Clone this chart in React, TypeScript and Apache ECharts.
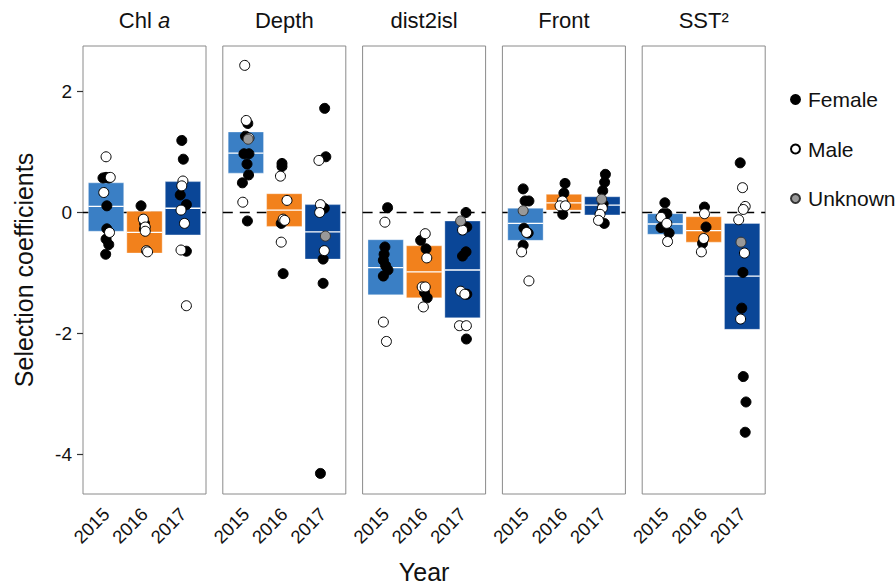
import React, { useEffect, useRef } from "react";
import * as echarts from "echarts";

const years = ["2015", "2016", "2017"];
const panelNames = ["Chl a", "Depth", "dist2isl", "Front", "SST²"];
const yearColors = ["#3a7fc5", "#f2811c", "#0a4697"];
const yTicks = [-4, -2, 0, 2];

// crossbar statistics per panel (index = year)
const boxLower = [
  [-0.31, -0.67, -0.37],
  [0.65, -0.23, -0.77],
  [-1.36, -1.41, -1.74],
  [-0.46, 0.04, -0.04],
  [-0.36, -0.49, -1.93],
];
const boxMedian = [
  [0.1, -0.33, 0.07],
  [0.98, 0.04, -0.32],
  [-0.91, -0.98, -0.95],
  [-0.18, 0.16, 0.12],
  [-0.19, -0.3, -1.05],
];
const boxUpper = [
  [0.49, 0.02, 0.51],
  [1.33, 0.31, 0.13],
  [-0.45, -0.55, -0.14],
  [0.07, 0.3, 0.26],
  [-0.02, -0.07, -0.18],
];

// points: [yearIndex, jitter, value]
const chlFemale = [
  [0, -0.08, 0.57], [0, 0.0, 0.58], [0, 0.07, 0.57], [0, 0.02, 0.11], [0, 0.02, -0.27], [0, 0.0, -0.44], [0, 0.07, -0.53], [0, -0.01, -0.69],
  [1, -0.09, 0.11], [1, 0.0, -0.18], [1, 0.0, -0.27],
  [2, -0.03, 1.19], [2, 0.01, 0.88], [2, -0.07, 0.29], [2, 0.09, 0.13], [2, 0.09, -0.64],
];
const chlMale = [
  [0, 0.11, 0.58], [0, 0.0, 0.92], [0, -0.06, 0.33], [0, 0.09, -0.33],
  [1, -0.03, -0.11], [1, 0.02, -0.24], [1, 0.02, -0.31], [1, 0.05, -0.63], [1, 0.08, -0.65],
  [2, 0.0, 0.52], [2, -0.03, 0.44], [2, -0.05, 0.04], [2, 0.04, -0.18], [2, -0.05, -0.62], [2, 0.09, -1.54],
];
const chlUnknown: number[][] = [];

const depthFemale = [
  [0, 0.05, 1.47], [0, -0.01, 1.26], [0, -0.05, 0.97], [0, 0.08, 0.97], [0, 0.03, 0.8], [0, 0.07, 0.62], [0, -0.09, 0.49], [0, 0.04, -0.14],
  [1, -0.06, 0.81], [1, -0.06, 0.76], [1, -0.08, -0.18], [1, -0.03, -1.01],
  [2, 0.05, 1.72], [2, 0.08, 0.92], [2, 0.04, 0.07], [2, 0.01, -0.77], [2, 0.01, -1.17], [2, -0.06, -4.31],
];
const depthMale = [
  [0, -0.03, 2.43], [0, 0.01, 1.52], [0, 0.08, 1.23], [0, -0.08, 0.17],
  [1, -0.1, 0.6], [1, 0.07, 0.2], [1, -0.03, -0.11], [1, 0.01, -0.13], [1, -0.08, -0.49],
  [2, -0.1, 0.86], [2, -0.06, 0.13], [2, -0.08, 0.0], [2, 0.04, -0.63],
];
const depthUnknown = [[0, 0.06, 1.21], [2, 0.07, -0.39]];

const distFemale = [
  [0, 0.05, 0.08], [0, -0.02, -0.57], [0, -0.04, -0.69], [0, -0.06, -0.79], [0, 0.0, -0.88], [0, 0.06, -0.95], [0, -0.06, -1.05],
  [1, -0.09, -0.46], [1, 0.05, -0.6], [1, 0.01, -1.32], [1, 0.08, -1.41],
  [2, 0.09, 0.0], [2, 0.11, -0.24], [2, 0.09, -0.65], [2, 0.0, -0.72], [2, 0.11, -1.35], [2, 0.1, -2.09],
];
const distMale = [
  [0, -0.02, -0.16], [0, -0.06, -1.81], [0, 0.02, -2.13],
  [1, 0.03, -0.35], [1, 0.07, -0.75], [1, -0.05, -1.23], [1, 0.03, -1.23], [1, -0.02, -1.56],
  [2, 0.0, -0.29], [2, -0.05, -1.3], [2, 0.06, -1.35], [2, -0.08, -1.87], [2, 0.1, -1.87],
];
const distUnknown = [[2, -0.05, -0.14]];

const frontFemale = [
  [0, -0.06, 0.39], [0, -0.01, 0.19], [0, 0.09, 0.19], [0, -0.04, -0.26], [0, 0.07, -0.34], [0, -0.06, -0.54],
  [1, 0.03, 0.48], [1, 0.0, 0.32], [1, -0.03, -0.03],
  [2, 0.08, 0.63], [2, 0.06, 0.5], [2, 0.01, 0.36], [2, 0.02, 0.14], [2, 0.05, -0.18],
];
const frontMale = [
  [0, 0.03, -0.33], [0, -0.1, -0.65], [0, 0.09, -1.13],
  [1, -0.04, 0.19], [1, -0.1, 0.11], [1, 0.04, 0.11],
  [2, 0.0, 0.07], [2, -0.06, -0.03], [2, -0.1, -0.13],
];
const frontUnknown = [[0, -0.06, 0.03], [2, -0.02, 0.22]];

const sstFemale = [
  [0, -0.01, 0.16], [0, -0.05, -0.02], [0, 0.04, -0.02], [0, -0.11, -0.25], [0, 0.1, -0.34],
  [1, 0.02, 0.09], [1, 0.06, -0.24], [1, -0.03, -0.51],
  [2, -0.05, 0.82], [2, 0.02, -0.99], [2, -0.01, -1.58], [2, 0.03, -2.71], [2, 0.1, -3.13], [2, 0.08, -3.63],
];
const sstMale = [
  [0, -0.11, -0.08], [0, 0.04, -0.18], [0, 0.06, -0.48],
  [1, 0.02, -0.02], [1, 0.0, -0.43], [1, -0.06, -0.65],
  [2, 0.01, 0.41], [2, 0.08, 0.1], [2, 0.03, 0.05], [2, -0.09, -0.12], [2, 0.06, -0.67], [2, -0.04, -1.76],
];
const sstUnknown = [[2, -0.03, -0.49]];

const femaleSets = [chlFemale, depthFemale, distFemale, frontFemale, sstFemale];
const maleSets = [chlMale, depthMale, distMale, frontMale, sstMale];
const unknownSets = [chlUnknown, depthUnknown, distUnknown, frontUnknown, sstUnknown];

const FONT = "'Liberation Sans', Arial, Helvetica, sans-serif";
const TEXT = "#111";

const PANEL_LEFT = 83;
const PANEL_STEP = 139.8;
const PANEL_W = 123;
const PANEL_TOP = 46;
const PANEL_H = 448;
const BOX_HALF = 0.46;

const sexStyles = [
  { name: "Female", sets: femaleSets, color: "#000", border: "#000" },
  { name: "Male", sets: maleSets, color: "#fff", border: "#000" },
  { name: "Unknown", sets: unknownSets, color: "#999", border: "#333" },
];

export default function App() {
  const ref = useRef<HTMLDivElement>(null);
  useEffect(() => {
    if (!ref.current) return;
    const chart = echarts.init(ref.current, undefined, { renderer: "svg" });
    const grids: any[] = [];
    const xAxes: any[] = [];
    const yAxes: any[] = [];
    const series: any[] = [];
    const graphics: any[] = [];

    panelNames.forEach((pname, i) => {
      const left = PANEL_LEFT + i * PANEL_STEP;
      grids.push({
        left,
        top: PANEL_TOP,
        width: PANEL_W,
        height: PANEL_H,
        show: true,
        borderColor: "#8a8a8a",
        borderWidth: 1,
        backgroundColor: "transparent",
        containLabel: false,
        outerBoundsMode: "none",
      });
      xAxes.push({
        type: "value",
        gridIndex: i,
        min: 0.4,
        max: 3.6,
        axisLine: { show: false },
        axisTick: { show: false },
        splitLine: { show: false },
        axisLabel: {
          customValues: [1, 2, 3],
          formatter: (v: number) => years[Math.round(v) - 1] ?? "",
          rotate: 45,
          margin: 17,
          fontSize: 18.5,
          color: TEXT,
          fontFamily: FONT,
        },
        name: i === 2 ? "Year" : "",
        nameLocation: "middle",
        nameGap: 65,
        nameTextStyle: { fontSize: 25, color: TEXT, fontFamily: FONT },
      });
      yAxes.push({
        type: "value",
        gridIndex: i,
        min: -4.65,
        max: 2.75,
        splitLine: { show: false },
        axisLine: { show: false },
        axisTick: {
          show: i === 0,
          customValues: yTicks,
          length: 6,
          lineStyle: { color: "#333", width: 1.2 },
        },
        axisLabel: {
          show: i === 0,
          customValues: yTicks,
          margin: 11,
          fontSize: 19,
          color: TEXT,
          fontFamily: FONT,
        },
        name: i === 0 ? "Selection coefficients" : "",
        nameLocation: "middle",
        nameRotate: 90,
        nameGap: 47,
        nameTextStyle: { fontSize: 25, color: TEXT, fontFamily: FONT },
      });

      // zero reference line
      series.push({
        type: "line",
        xAxisIndex: i,
        yAxisIndex: i,
        data: [[0.4, 0], [3.6, 0]],
        symbol: "none",
        silent: true,
        z: 1,
        lineStyle: { color: "#000", width: 1.6, type: [10, 7] },
      });

      // crossbars
      series.push({
        type: "custom",
        xAxisIndex: i,
        yAxisIndex: i,
        z: 2,
        silent: true,
        data: years.map((_, k) => [k + 1, boxLower[i][k], boxMedian[i][k], boxUpper[i][k], k]),
        encode: { x: 0, y: [1, 2, 3] },
        renderItem: (params: any, api: any) => {
          const x = api.value(0);
          const lo = api.coord([x - BOX_HALF, api.value(1)]);
          const hi = api.coord([x + BOX_HALF, api.value(3)]);
          const md = api.coord([x, api.value(2)]);
          const color = yearColors[api.value(4)];
          return {
            type: "group",
            children: [
              {
                type: "rect",
                shape: { x: lo[0], y: hi[1], width: hi[0] - lo[0], height: lo[1] - hi[1] },
                style: { fill: color, stroke: "rgba(255,255,255,0.35)", lineWidth: 1 },
              },
              {
                type: "line",
                shape: { x1: lo[0], y1: md[1], x2: hi[0], y2: md[1] },
                style: { stroke: "#ffffff", lineWidth: 1.3 },
              },
            ],
          };
        },
      });

      sexStyles.forEach((s) => {
        series.push({
          type: "scatter",
          name: s.name,
          xAxisIndex: i,
          yAxisIndex: i,
          z: 3,
          symbol: "circle",
          symbolSize: 10,
          itemStyle: { color: s.color, borderColor: s.border, borderWidth: 1, opacity: 1 },
          data: s.sets[i].map((p) => [p[0] + 1 + p[1], p[2]]),
        });
      });

      graphics.push({
        type: "text",
        x: left + PANEL_W / 2,
        y: 20,
        style: {
          text: pname === "Chl a" ? "Chl {i|a}" : pname,
          fontSize: 22,
          fontFamily: FONT,
          fill: TEXT,
          align: "center",
          verticalAlign: "middle",
          rich: { i: { fontStyle: "italic", fontSize: 22, fontFamily: FONT, fill: TEXT } },
        },
      });
    });

    chart.setOption({
      animation: false,
      backgroundColor: "#fff",
      grid: grids,
      xAxis: xAxes,
      yAxis: yAxes,
      series,
      graphic: graphics,
      legend: {
        data: sexStyles.map((s) => ({ name: s.name, icon: "circle" })),
        orient: "vertical",
        left: 785,
        top: 84,
        itemWidth: 9,
        itemHeight: 9,
        itemGap: 28.5,
        textStyle: { fontSize: 21, color: TEXT, fontFamily: FONT, padding: [0, 0, 0, 3] },
        selectedMode: false,
      },
    });
    return () => chart.dispose();
  }, []);
  return (
    <div
      ref={ref}
      style={{ position: "fixed", left: 0, top: 0, width: 895, height: 584 }}
    />
  );
}
